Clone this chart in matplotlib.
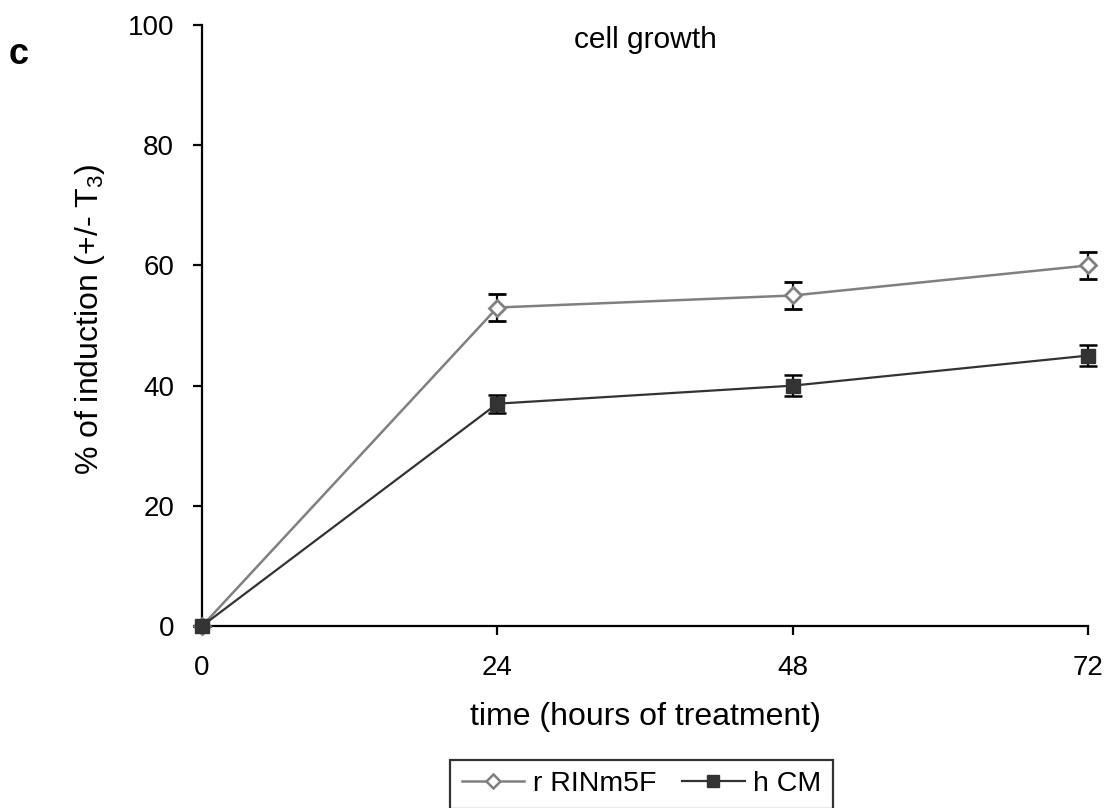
import numpy as np
import matplotlib.pyplot as plt
from matplotlib.lines import Line2D

plt.rcParams['font.family'] = ['Liberation Sans', 'DejaVu Sans']
plt.rcParams['mathtext.fontset'] = 'custom'
plt.rcParams['mathtext.rm'] = 'Liberation Sans'

hours = [0, 24, 48, 72]
rin_vals = [0, 53, 55, 60]
rin_err = [0, 2.2, 2.2, 2.3]
hcm_vals = [0, 37, 40, 45]
hcm_err = [0, 1.5, 1.7, 1.8]

rin_col = '#808080'
hcm_col = '#333333'

fig = plt.figure(figsize=(11.07, 8.08), dpi=100)
ax = fig.add_axes([0.1825, 0.2252, 0.8003, 0.7438])

ax.errorbar(hours, rin_vals, yerr=rin_err, color=rin_col, lw=1.8,
            marker='D', ms=8, mfc='white', mec=rin_col, mew=2,
            ecolor='black', elinewidth=1.6, capsize=6.5, capthick=1.8,
            zorder=3, clip_on=False)
ax.errorbar(hours, hcm_vals, yerr=hcm_err, color=hcm_col, lw=1.6,
            marker='s', ms=10, mfc=hcm_col, mec=hcm_col,
            ecolor='black', elinewidth=1.6, capsize=6.5, capthick=1.8,
            zorder=3, clip_on=False)

ax.set_xlim(0, 72)
ax.set_ylim(0, 100)
ax.set_xticks(hours)
ax.set_yticks([0, 20, 40, 60, 80, 100])
for s in ['top', 'right']:
    ax.spines[s].set_visible(False)
for s in ['left', 'bottom']:
    ax.spines[s].set_linewidth(1.6)
ax.tick_params(axis='x', width=1.6, length=6.5, labelsize=20, pad=14)
ax.tick_params(axis='y', width=1.6, length=6.5, labelsize=20, pad=13.5)

ax.set_xlabel('time (hours of treatment)', fontsize=23, va='center')
ax.xaxis.set_label_coords(0.5, -0.152)
ax.set_ylabel('% of induction (+/- T$_\\mathregular{3}$)', fontsize=23,
              va='center')
ax.yaxis.set_label_coords(-0.127, 0.51)
ax.text(0.5, 0.975, 'cell growth', transform=ax.transAxes, ha='center',
        va='center', fontsize=21.5)
fig.text(19 / 1107, 1 - 55 / 808, 'c', fontsize=26, fontweight='bold',
         ha='center', va='center')

handles = [
    Line2D([], [], color=rin_col, lw=1.8, marker='D', ms=7, mfc='white',
           mec=rin_col, mew=1.8),
    Line2D([], [], color=hcm_col, lw=1.6, marker='s', ms=9, mfc=hcm_col,
           mec=hcm_col),
]
leg = fig.legend(handles, ['r RINm5F', 'h CM'], loc='upper center',
                 bbox_to_anchor=(641.5 / 1107, 1 - 760 / 808),
                 ncol=2, fontsize=20.5, frameon=True, fancybox=False,
                 edgecolor='black', handlelength=2.2, columnspacing=0.9,
                 handletextpad=0.3, borderpad=0.4, borderaxespad=0)
leg.get_frame().set_linewidth(1.6)

fig.savefig('out.png', dpi=100)
